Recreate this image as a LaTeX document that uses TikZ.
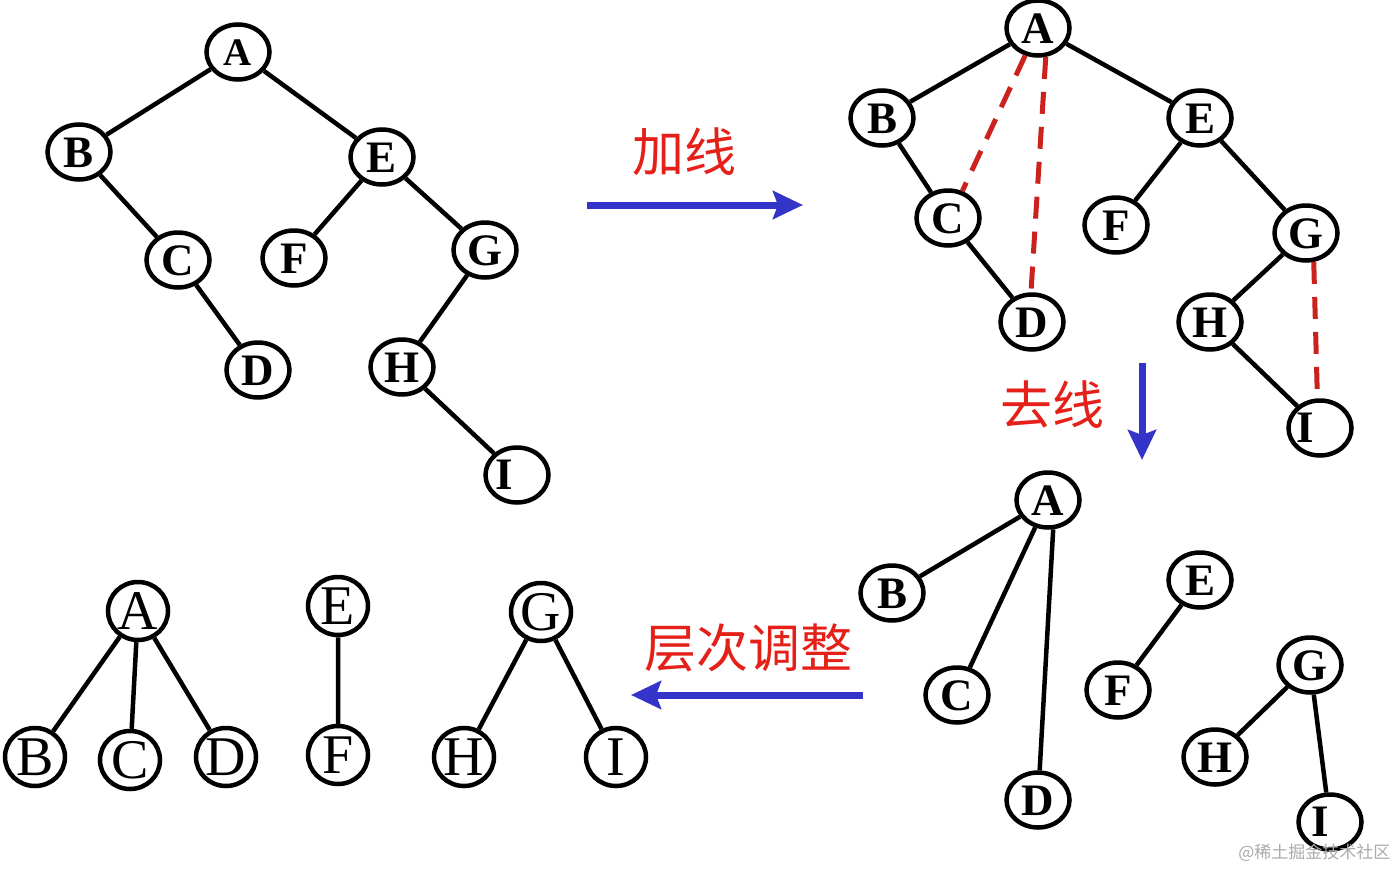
\documentclass[tikz,border=0pt]{standalone}
\usepackage{fontspec}
\setmainfont{Liberation Serif}
\newfontfamily\cjk{Noto Sans CJK SC}
\usetikzlibrary{shapes.geometric,arrows.meta}
\definecolor{myred}{RGB}{228,32,24}
\definecolor{dashred}{RGB}{204,34,30}
\definecolor{myblue}{RGB}{52,52,200}
\definecolor{wmgray}{RGB}{170,170,170}
\tikzset{
  bnode/.style={ellipse,draw=black,line width=4.5pt,minimum width=63pt,minimum height=55pt,inner sep=0pt,font=\fontsize{45}{45}\selectfont\bfseries,text height=30pt,text depth=0pt},
  rnode/.style={ellipse,draw=black,line width=4.5pt,minimum width=60pt,minimum height=58pt,inner sep=0pt,font=\fontsize{56}{56}\selectfont},
  shiftI/.style={label={[font=\fontsize{45}{45}\selectfont\bfseries,inner sep=0pt,xshift=#1]center:I}},
  edge/.style={line width=4.5pt,black},
  redge/.style={line width=5pt,dashred,dash pattern=on 22pt off 13pt},
  bigarrow/.style={line width=7pt,myblue,-{Stealth[length=30pt,width=28pt,inset=5pt]}},
  cnlabel/.style={text=myred,font=\cjk\fontsize{52}{52}\selectfont},
}
\begin{document}
\begin{tikzpicture}[x=1pt,y=-1pt]
\useasboundingbox (0,0) rectangle (1400,870);
% Tree 1
\node[bnode,font=\fontsize{39}{39}\selectfont\bfseries,text height=26pt] (A1) at (238,52) {A};
\node[bnode] (B1) at (79,152) {B};
\node[bnode] (E1) at (382,157) {E};
\node[bnode] (C1) at (178,260) {C};
\node[bnode] (F1) at (294,258) {F};
\node[bnode] (G1) at (485,250) {G};
\node[bnode] (D1) at (258,370) {D};
\node[bnode] (H1) at (402,367) {H};
\node[bnode,shiftI=-13pt] (I1) at (517,475) {};
\draw[edge] (A1)--(B1) (A1)--(E1) (B1)--(C1) (C1)--(D1) (E1)--(F1) (E1)--(G1) (G1)--(H1) (H1)--(I1);
% Arrow 1
\coordinate (s1) at (587,205);
\coordinate (t1) at (803,205);
\draw[bigarrow] (s1)--(t1);
\node[cnlabel] (L1) at (684,152) {加线};
% Tree 2
\node[bnode] (A2) at (1038,28) {A};
\node[bnode] (B2) at (882,118) {B};
\node[bnode] (E2) at (1200,118) {E};
\node[bnode] (C2) at (948,218) {C};
\node[bnode] (F2) at (1116,225) {F};
\node[bnode] (G2) at (1306,233) {G};
\node[bnode] (D2) at (1032,322) {D};
\node[bnode] (H2) at (1210,322) {H};
\node[bnode,shiftI=-15pt] (I2) at (1320,428) {};
\draw[edge] (A2)--(B2) (A2)--(E2) (B2)--(C2) (C2)--(D2) (E2)--(F2) (E2)--(G2) (G2)--(H2) (H2)--(I2);
\draw[redge] (A2.245)--(C2.62);
\draw[redge] (A2.285)--(D2.92);
\draw[redge] (G2.285)--(I2.95);
% Arrow 2
\coordinate (s2) at (1142,363);
\coordinate (t2) at (1142,460);
\draw[bigarrow] (s2)--(t2);
\node[cnlabel] (L2) at (1052,405) {去线};
% Tree 3
\node[bnode] (A3) at (1048,500) {A};
\node[bnode] (B3) at (892,593) {B};
\node[bnode] (E3) at (1200,580) {E};
\node[bnode] (C3) at (957,695) {C};
\node[bnode] (F3) at (1118,690) {F};
\node[bnode] (G3) at (1310,665) {G};
\node[bnode] (D3) at (1038,800) {D};
\node[bnode] (H3) at (1215,757) {H};
\node[bnode,shiftI=-10pt] (I3) at (1330,822) {};
\draw[edge] (A3)--(B3) (A3)--(C3) (A3.280)--(D3) (E3)--(F3) (G3)--(H3) (G3)--(I3);
% Arrow 3
\coordinate (s3) at (863,695);
\coordinate (t3) at (631,695);
\draw[bigarrow] (s3)--(t3);
\node[cnlabel] (L3) at (748,648) {层次调整};
% Tree 4
\node[rnode] (A4) at (138,611) {A};
\node[rnode] (B4) at (35,757) {B};
\node[rnode] (C4) at (130,760) {C};
\node[rnode] (D4) at (226,757) {D};
\node[rnode] (E4) at (338,606) {E};
\node[rnode] (F4) at (338,755) {F};
\node[rnode] (G4) at (541,612) {G};
\node[rnode] (H4) at (464,757) {H};
\node[rnode] (I4) at (616,757) {I};
\draw[edge] (A4)--(B4) (A4)--(C4) (A4)--(D4) (E4)--(F4) (G4)--(H4) (G4)--(I4);
% Watermark
\node[text=wmgray,font=\cjk\fontsize{17}{17}\selectfont,anchor=east] (wm) at (1394,853) {@稀土掘金技术社区};
\end{tikzpicture}
\end{document}
